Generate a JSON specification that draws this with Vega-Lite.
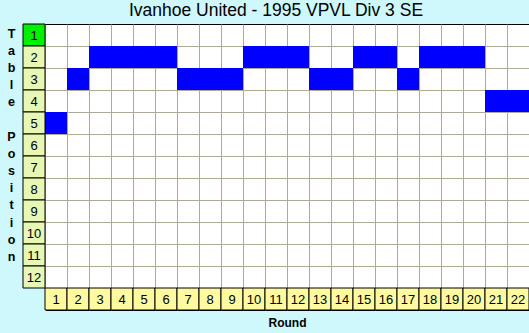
{
  "$schema": "https://vega.github.io/schema/vega-lite/v6.json",
  "autosize": {"type": "none"},
  "width": 506,
  "height": 286,
  "padding": {"left": 23, "top": 24, "right": 0, "bottom": 23},
  "background": "#cef8fb",
  "config": {
    "view": {"fill": "white", "stroke": "black", "strokeWidth": 1},
    "font": "Liberation Sans"
  },
  "title": {
    "text": "Ivanhoe United - 1995 VPVL Div 3 SE",
    "fontSize": 17.5,
    "fontWeight": "normal",
    "font": "Liberation Sans",
    "color": "black",
    "anchor": "middle",
    "frame": "group",
    "baseline": "alphabetic",
    "offset": -10
  },
  "datasets": {
    "positions": [
      {"round": 1, "pos": 5}, {"round": 2, "pos": 3}, {"round": 3, "pos": 2},
      {"round": 4, "pos": 2}, {"round": 5, "pos": 2}, {"round": 6, "pos": 2},
      {"round": 7, "pos": 3}, {"round": 8, "pos": 3}, {"round": 9, "pos": 3},
      {"round": 10, "pos": 2}, {"round": 11, "pos": 2}, {"round": 12, "pos": 2},
      {"round": 13, "pos": 3}, {"round": 14, "pos": 3}, {"round": 15, "pos": 2},
      {"round": 16, "pos": 2}, {"round": 17, "pos": 3}, {"round": 18, "pos": 2},
      {"round": 19, "pos": 2}, {"round": 20, "pos": 2}, {"round": 21, "pos": 4},
      {"round": 22, "pos": 4}
    ],
    "tablepos": [
      {"p": 1}, {"p": 2}, {"p": 3}, {"p": 4}, {"p": 5}, {"p": 6},
      {"p": 7}, {"p": 8}, {"p": 9}, {"p": 10}, {"p": 11}, {"p": 12}
    ]
  },
  "layer": [
    {
      "data": {"name": "positions"},
      "mark": {"type": "rect", "fill": "#0000ff", "stroke": null},
      "encoding": {
        "x": {
          "field": "round", "type": "ordinal",
          "scale": {"type": "band", "domain": [0,1,2,3,4,5,6,7,8,9,10,11,12,13,14,15,16,17,18,19,20,21,22], "paddingInner": 0, "paddingOuter": 0},
          "axis": {
            "orient": "bottom", "labels": false, "ticks": false, "domain": false,
            "grid": true, "gridColor": "#b0a999", "gridOpacity": 1, "gridWidth": 1,
            "bandPosition": 0, "zindex": 0,
            "values": [1,2,3,4,5,6,7,8,9,10,11,12,13,14,15,16,17,18,19,20,21,22],
            "title": "Round", "titleFontSize": 12, "titleFontWeight": "bold",
            "titleColor": "black", "titleBaseline": "alphabetic", "titleY": 16,
            "titleX": 264, "titleAlign": "center", "titlePadding": 0
          }
        },
        "y": {
          "field": "pos", "type": "ordinal",
          "scale": {"type": "band", "domain": [1,2,3,4,5,6,7,8,9,10,11,12,13], "paddingInner": 0, "paddingOuter": 0},
          "axis": {
            "orient": "left", "labels": false, "ticks": false, "domain": false,
            "grid": true, "gridColor": "#b0a999", "gridOpacity": 1, "gridWidth": 1,
            "bandPosition": 0, "zindex": 0,
            "values": [2,3,4,5,6,7,8,9,10,11,12],
            "title": ["T", "a", "b", "l", "e", "\u200b", "P", "o", "s", "i", "t", "i", "o", "n"],
            "titleAngle": 0, "titleFontSize": 12.5, "titleFontWeight": "bold",
            "titleColor": "black", "titleBaseline": "top", "titleAlign": "center",
            "titleX": -12, "titleY": 3, "titleLineHeight": 17.2, "titlePadding": 0
          }
        }
      }
    },
    {
      "data": {"values": [{}]},
      "mark": {"type": "rect", "fill": "#cef8fb", "stroke": "#cef8fb", "strokeWidth": 2},
      "encoding": {
        "x": {"datum": 0, "type": "ordinal"},
        "y": {"datum": 13, "type": "ordinal"}
      }
    },
    {
      "data": {"name": "tablepos"},
      "mark": {"type": "rect", "stroke": "black", "strokeWidth": 1},
      "encoding": {
        "x": {"datum": 0, "type": "ordinal"},
        "y": {"field": "p", "type": "ordinal"},
        "fill": {
          "condition": {"test": "datum.p === 1", "value": "#00f000"},
          "value": "#e6f8b4"
        }
      }
    },
    {
      "data": {"name": "tablepos"},
      "mark": {"type": "text", "fontSize": 13, "color": "black", "baseline": "middle", "align": "center", "dy": 1},
      "encoding": {
        "x": {"datum": 0, "type": "ordinal"},
        "y": {"field": "p", "type": "ordinal"},
        "text": {"field": "p", "type": "nominal"}
      }
    },
    {
      "data": {"name": "positions"},
      "mark": {"type": "rect", "stroke": "black", "strokeWidth": 1, "fill": "#fffaa0"},
      "encoding": {
        "x": {"field": "round", "type": "ordinal"},
        "y": {"datum": 13, "type": "ordinal"}
      }
    },
    {
      "data": {"name": "positions"},
      "mark": {"type": "text", "fontSize": 13, "color": "black", "baseline": "middle", "align": "center", "dy": 1},
      "encoding": {
        "x": {"field": "round", "type": "ordinal"},
        "y": {"datum": 13, "type": "ordinal"},
        "text": {"field": "round", "type": "nominal"}
      }
    }
  ]
}
